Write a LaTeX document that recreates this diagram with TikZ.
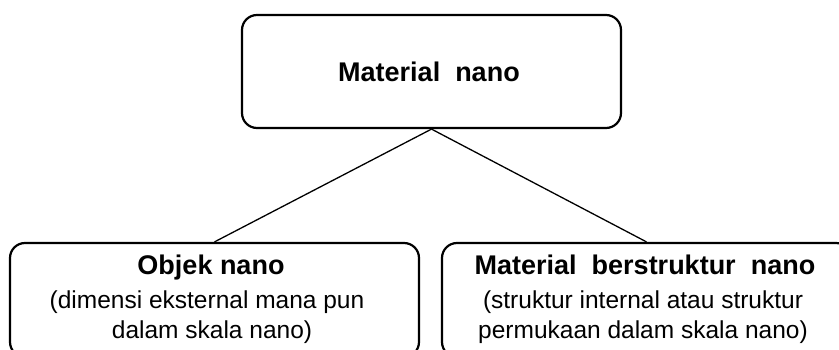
\documentclass[tikz,border=0pt]{standalone}
\usepackage{fontspec}
\setmainfont{Liberation Sans}
\tikzset{
  box/.style={draw=black, line width=2.2pt, rounded corners=15pt, fill=white, inner sep=0pt},
  link/.style={draw=black, line width=1.3pt},
  title/.style={font=\fontsize{27}{30}\selectfont\bfseries, anchor=base, inner sep=0pt},
  note/.style={font=\fontsize{24.5}{30}\selectfont, anchor=base, inner sep=0pt}
}
\begin{document}
\begin{tikzpicture}[x=1pt,y=-1pt]
  \useasboundingbox (0,0) rectangle (839,350);
  \clip (0,0) rectangle (839,350);

  % boxes
  \node[box, minimum width=379pt, minimum height=113pt] (top) at (431.5,71.5) {};
  \node[box, minimum width=409pt, minimum height=114pt] (obj) at (214.5,300) {};
  \node[box, minimum width=409pt, minimum height=114pt] (mat) at (646.5,300) {};

  % connectors
  \draw[link] (top.south) -- (obj.north);
  \draw[link] (top.south) -- (mat.north);

  % texts
  \node[title] (toptext) at (429,82) {Material\ \ nano};

  \node[title] (objtitle) at (211,275) {Objek nano};
  \node[note] (objline1) at (207,308) {(dimensi eksternal mana pun};
  \node[note] (objline2) at (212,338) {dalam skala nano)};

  \node[title] (mattitle) at (645,275) {Material\ \ berstruktur\ \ nano};
  \node[note] (matline1) at (643,308) {(struktur internal atau struktur};
  \node[note] (matline2) at (643,338) {permukaan dalam skala nano)};
\end{tikzpicture}
\end{document}
